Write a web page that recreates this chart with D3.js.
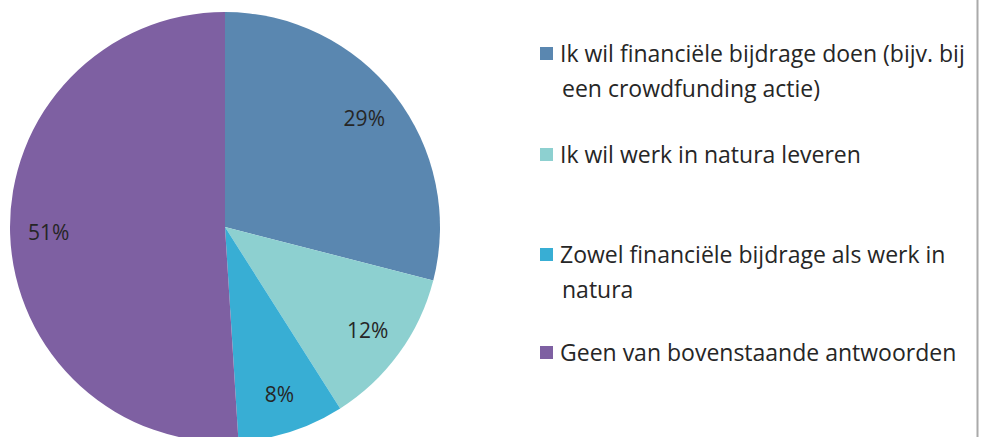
<!DOCTYPE html>
<html><head><meta charset="utf-8">
<script src="https://cdn.jsdelivr.net/npm/d3@7"></script>
<style>html,body{margin:0;padding:0;background:#fff;overflow:hidden}</style>
</head><body>
<svg id="c" width="986" height="437"></svg>
<script>
const categories = [
  ["Ik wil financiële bijdrage doen (bijv. bij", "een crowdfunding actie)"],
  ["Ik wil werk in natura leveren"],
  ["Zowel financiële bijdrage als werk in", "natura"],
  ["Geen van bovenstaande antwoorden"]
];
const values = [29, 12, 8, 51];
const labels = ["29%", "12%", "8%", "51%"];
const colors = ["#5a87b0", "#8dd0d0", "#38aed4", "#7e60a2"];

const svg = d3.select("#c");
const cx = 225, cy = 227, r = 215;
const font = "'Open Sans', sans-serif";
const g = svg.append("g").attr("transform", `translate(${cx},${cy})`);
const pie = d3.pie().sort(null).value(d => d)(values);
const arc = d3.arc().innerRadius(0).outerRadius(r);
const labelArc = d3.arc().innerRadius(r * 0.82).outerRadius(r * 0.82);
g.selectAll("path").data(pie).join("path")
  .attr("d", arc).attr("fill", (d, i) => colors[i]);
g.selectAll("text").data(pie).join("text")
  .attr("transform", d => `translate(${labelArc.centroid(d)})`)
  .attr("text-anchor", "middle").attr("dy", "0.35em")
  .attr("font-family", font).attr("font-size", 21)
  .attr("fill", "#262626").text((d, i) => labels[i]);

// legend
const legendY = [54, 155, 255, 353];
const lg = svg.append("g");
categories.forEach((lines, i) => {
  const y = legendY[i];
  lg.append("rect").attr("x", 540).attr("y", y - 7).attr("width", 13).attr("height", 13).attr("fill", colors[i]);
  lines.forEach((t, j) => {
    lg.append("text").attr("x", j === 0 ? 560 : 562).attr("y", y + j * 35)
      .attr("dy", "0.35em").attr("font-family", font).attr("font-size", 23)
      .attr("fill", "#262626").text(t);
  });
});
svg.append("line").attr("x1", 977.5).attr("x2", 977.5).attr("y1", 0).attr("y2", 437)
  .attr("stroke", "#aaa").attr("stroke-width", 2);
</script>
</body></html>
